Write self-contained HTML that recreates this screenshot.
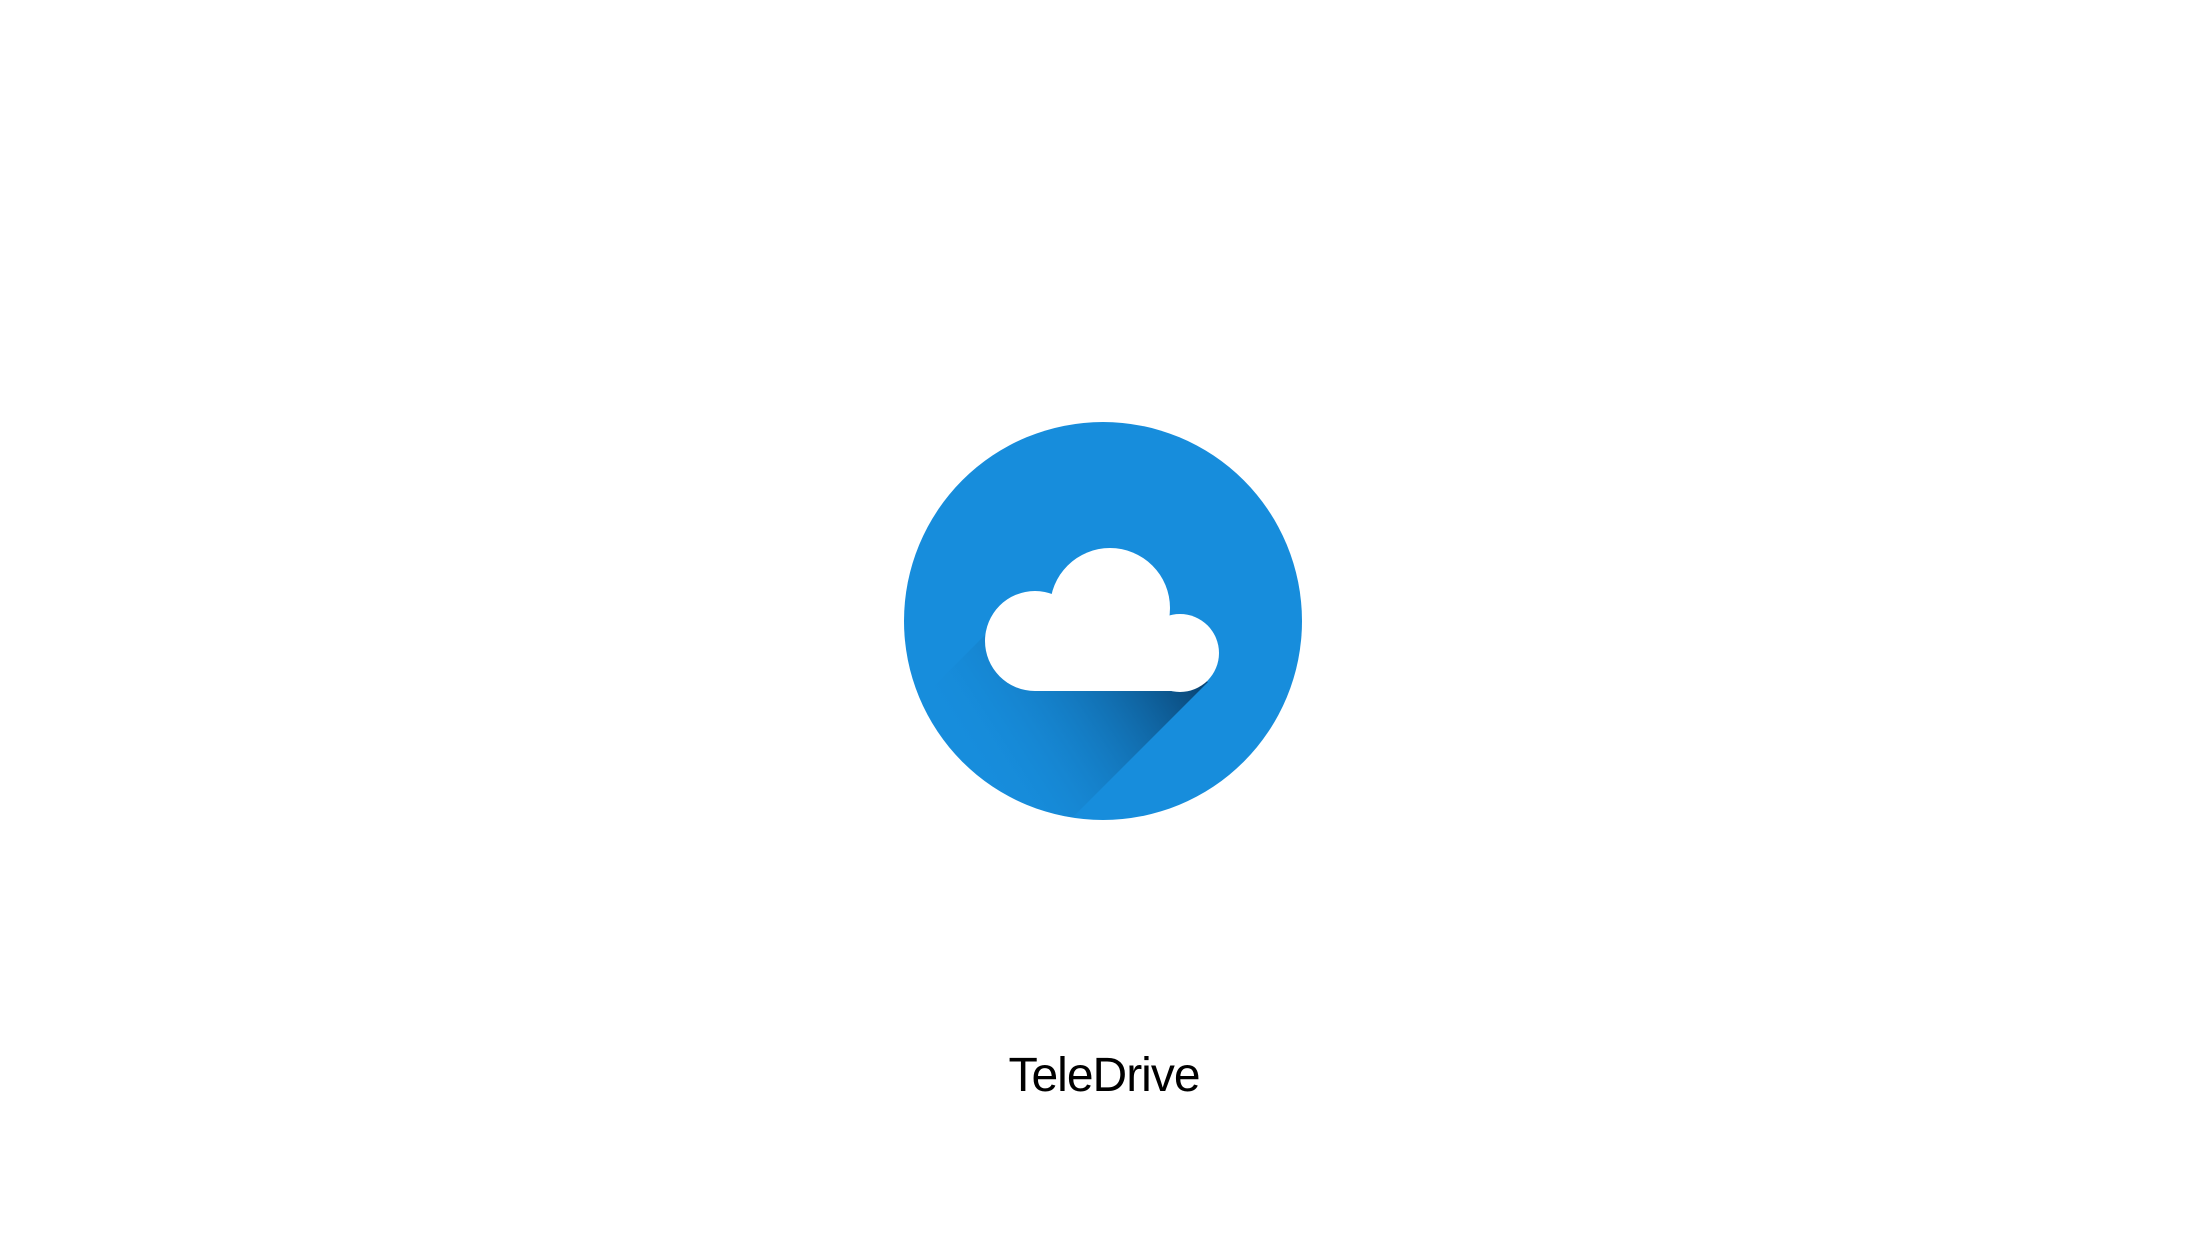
<!DOCTYPE html>
<html><head><meta charset="utf-8"><style>
html,body{margin:0;padding:0;background:#fff;width:2208px;height:1242px;overflow:hidden}
.t{position:absolute;left:0;width:2208px;top:1048px;text-align:center;font-family:"Liberation Sans",sans-serif;font-size:48px;letter-spacing:-1px;color:#000;line-height:56px}
</style></head><body>
<svg width="2208" height="1242" style="position:absolute;left:0;top:0">
<defs>
<clipPath id="c"><circle cx="1103" cy="621" r="199"/></clipPath>
<linearGradient id="g" x1="1190" y1="670" x2="990" y2="800" gradientUnits="userSpaceOnUse">
<stop offset="0" stop-color="#0a4676"/><stop offset="1" stop-color="#178ddc" stop-opacity="0"/></linearGradient>
</defs>
<circle cx="1103" cy="621" r="199" fill="#178ddc"/>
<g clip-path="url(#c)">
<polygon points="1020,600 1208,682 1000,890 812,808" fill="url(#g)"/>
</g>
<g fill="#fff">
<circle cx="1110" cy="608" r="60"/>
<circle cx="1035" cy="641" r="50"/>
<circle cx="1180" cy="653" r="39"/>
<rect x="1035" y="620" width="145" height="71"/>
</g>
</svg>
<div class="t">TeleDrive</div>
</body></html>
